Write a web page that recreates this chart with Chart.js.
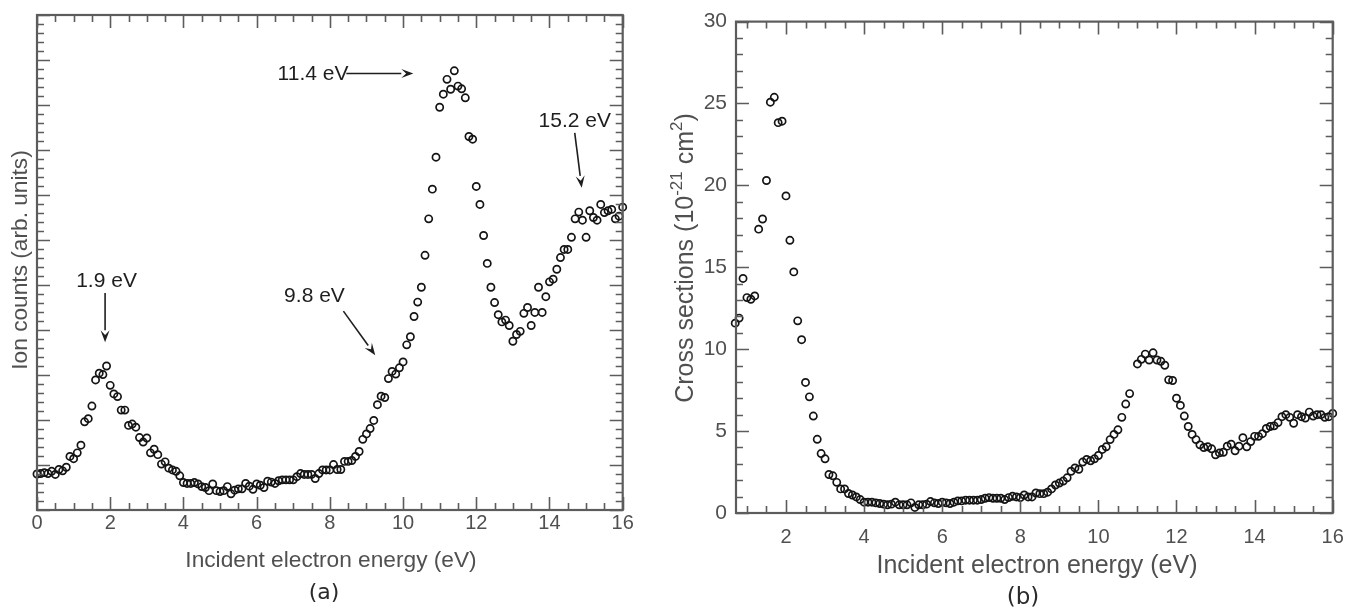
<!DOCTYPE html>
<html><head><meta charset="utf-8">
<script src="https://cdn.jsdelivr.net/npm/chart.js@4.4.1/dist/chart.umd.min.js"></script>
<style>
html,body{margin:0;padding:0;background:#fff;}
#wrap{position:relative;width:1359px;height:610px;overflow:hidden;}
canvas{position:absolute;top:0;}
#ca{left:0;}
#cb{left:660px;}
</style></head><body>
<div id="wrap"><canvas id="ca" width="660" height="610"></canvas><canvas id="cb" width="699" height="610"></canvas></div>
<script>
// ---------- data: panel (a) ----------
const energyA = [
 0.0,0.1,0.2,0.3,0.4,0.5,0.6,0.7,0.8,0.9,
 1.0,1.1,1.2,1.3,1.4,1.5,1.6,1.7,1.8,1.9,
 2.0,2.1,2.2,2.3,2.4,2.5,2.6,2.7,2.8,2.9,
 3.0,3.1,3.2,3.3,3.4,3.5,3.6,3.7,3.8,3.9,
 4.0,4.1,4.2,4.3,4.4,4.5,4.6,4.7,4.8,4.9,
 5.0,5.1,5.2,5.3,5.4,5.5,5.6,5.7,5.8,5.9,
 6.0,6.1,6.2,6.3,6.4,6.5,6.6,6.7,6.8,6.9,
 7.0,7.1,7.2,7.3,7.4,7.5,7.6,7.7,7.8,7.9,
 8.0,8.1,8.2,8.3,8.4,8.5,8.6,8.7,8.8,8.9,
 9.0,9.1,9.2,9.3,9.4,9.5,9.6,9.7,9.8,9.9,
 10.0,10.1,10.2,10.3,10.4,10.5,10.6,10.7,10.8,10.9,
 11.0,11.1,11.2,11.3,11.4,11.5,11.6,11.7,11.8,11.9,
 12.0,12.1,12.2,12.3,12.4,12.5,12.6,12.7,12.8,12.9,
 13.0,13.1,13.2,13.3,13.4,13.5,13.6,13.7,13.8,13.9,
 14.0,14.1,14.2,14.3,14.4,14.5,14.6,14.7,14.8,14.9,
 15.0,15.1,15.2,15.3,15.4,15.5,15.6,15.7,15.8,15.9,
 16.0];
const ionCounts = [
 0.80,0.81,0.83,0.81,0.86,0.79,0.90,0.87,0.95,1.19,
 1.14,1.27,1.44,1.96,2.03,2.31,2.89,3.04,3.01,3.20,
 2.77,2.58,2.52,2.22,2.22,1.88,1.91,1.84,1.61,1.51,
 1.60,1.27,1.35,1.23,1.02,1.07,0.93,0.89,0.86,0.76,
 0.61,0.59,0.59,0.61,0.58,0.52,0.50,0.43,0.58,0.43,
 0.41,0.43,0.52,0.36,0.44,0.47,0.47,0.59,0.53,0.46,
 0.58,0.55,0.50,0.64,0.62,0.59,0.65,0.67,0.67,0.67,
 0.67,0.74,0.81,0.79,0.79,0.79,0.70,0.81,0.89,0.89,
 0.89,1.01,0.90,0.90,1.08,1.08,1.10,1.19,1.30,1.57,
 1.69,1.81,1.99,2.34,2.53,2.50,2.92,3.08,3.02,3.16,
 3.29,3.67,3.85,4.30,4.62,4.95,5.66,6.47,7.13,7.84,
 8.95,9.24,9.57,9.35,9.76,9.42,9.36,9.16,8.30,8.24,
 7.19,6.79,6.10,5.48,4.95,4.61,4.34,4.18,4.22,4.10,
 3.75,3.90,3.97,4.37,4.50,4.10,4.39,4.95,4.39,4.74,
 5.07,5.13,5.35,5.61,5.79,5.79,6.06,6.47,6.62,6.44,
 6.06,6.65,6.50,6.44,6.79,6.61,6.65,6.68,6.47,6.53,
 6.73];
const xTickLabelsA = [0,2,4,6,8,10,12,14,16];
const peakLabelsA = ['1.9 eV','9.8 eV','11.4 eV','15.2 eV'];

// ---------- data: panel (b) ----------
const energyB = [
 0.7,0.8,0.9,
 1.0,1.1,1.2,1.3,1.4,1.5,1.6,1.7,1.8,1.9,
 2.0,2.1,2.2,2.3,2.4,2.5,2.6,2.7,2.8,2.9,
 3.0,3.1,3.2,3.3,3.4,3.5,3.6,3.7,3.8,3.9,
 4.0,4.1,4.2,4.3,4.4,4.5,4.6,4.7,4.8,4.9,
 5.0,5.1,5.2,5.3,5.4,5.5,5.6,5.7,5.8,5.9,
 6.0,6.1,6.2,6.3,6.4,6.5,6.6,6.7,6.8,6.9,
 7.0,7.1,7.2,7.3,7.4,7.5,7.6,7.7,7.8,7.9,
 8.0,8.1,8.2,8.3,8.4,8.5,8.6,8.7,8.8,8.9,
 9.0,9.1,9.2,9.3,9.4,9.5,9.6,9.7,9.8,9.9,
 10.0,10.1,10.2,10.3,10.4,10.5,10.6,10.7,10.8,
 11.0,11.1,11.2,11.3,11.4,11.5,11.6,11.7,11.8,11.9,
 12.0,12.1,12.2,12.3,12.4,12.5,12.6,12.7,12.8,12.9,
 13.0,13.1,13.2,13.3,13.4,13.5,13.6,13.7,13.8,13.9,
 14.0,14.1,14.2,14.3,14.4,14.5,14.6,14.7,14.8,14.9,
 15.0,15.1,15.2,15.3,15.4,15.5,15.6,15.7,15.8,15.9,
 16.0];
const crossSections = [
 11.59,11.90,14.32,
 13.15,13.05,13.25,17.33,17.95,20.30,25.08,25.38,23.83,23.92,
 19.36,16.65,14.72,11.73,10.58,7.97,7.09,5.92,4.50,3.63,
 3.31,2.35,2.27,1.87,1.47,1.47,1.19,1.10,0.98,0.82,
 0.66,0.66,0.66,0.62,0.58,0.54,0.50,0.54,0.66,0.50,
 0.50,0.50,0.62,0.34,0.50,0.50,0.54,0.70,0.62,0.58,
 0.66,0.62,0.58,0.66,0.74,0.74,0.78,0.78,0.78,0.78,
 0.82,0.90,0.94,0.90,0.90,0.90,0.82,0.94,1.02,0.98,
 0.94,1.10,0.98,0.98,1.22,1.18,1.18,1.27,1.47,1.71,
 1.83,1.95,2.15,2.55,2.75,2.67,3.11,3.27,3.19,3.31,
 3.51,3.88,4.04,4.48,4.80,5.08,5.84,6.65,7.29,
 9.10,9.38,9.70,9.34,9.78,9.34,9.26,9.02,8.13,8.09,
 7.01,6.57,5.92,5.28,4.80,4.48,4.16,4.00,4.04,3.92,
 3.55,3.67,3.71,4.08,4.20,3.80,4.08,4.60,4.04,4.36,
 4.68,4.68,4.84,5.16,5.28,5.32,5.52,5.88,6.00,5.84,
 5.48,6.00,5.88,5.80,6.16,5.92,6.00,6.00,5.84,5.88,
 6.08];
const xTickLabelsB = [2,4,6,8,10,12,14,16];
const yTickLabelsB = [0,5,10,15,20,25,30];

// ---------- helpers ----------
const FONT = '"Liberation Sans", Arial, Helvetica, sans-serif';
const AXIS = '#5c5c5c';
const TXT = '#505050';
const toPts = (xs, ys) => xs.map((x, i) => ({x: x, y: ys[i]}));
const near = (v, m) => Math.abs(v / m - Math.round(v / m)) < 1e-6;

function framePlugin(cfg) {
  return {
    id: 'frame' + cfg.id,
    afterDatasetsDraw(chart) {
      const ctx = chart.ctx, a = chart.chartArea, xs = chart.scales.x, ys = chart.scales.y;
      ctx.save();
      ctx.strokeStyle = AXIS;
      ctx.lineWidth = 1.6;
      ctx.beginPath();
      for (let i = 0; i < cfg.xCount; i++) {
        const v = cfg.xStart + i * cfg.xStep;
        const p = Math.round(xs.getPixelForValue(v)) + 0.5;
        const L = near(v, cfg.xMajor) ? 13 : 7;
        ctx.moveTo(p, a.bottom); ctx.lineTo(p, a.bottom - L);
        ctx.moveTo(p, a.top); ctx.lineTo(p, a.top + L);
      }
      for (let i = 0; i < cfg.yCount; i++) {
        const v = cfg.yStart + i * cfg.yStep;
        const p = Math.round(ys.getPixelForValue(v)) + 0.5;
        const L = near(v, cfg.yMajor) ? 13 : 7;
        ctx.moveTo(a.left, p); ctx.lineTo(a.left + L, p);
        ctx.moveTo(a.right, p); ctx.lineTo(a.right - L, p);
      }
      ctx.stroke();
      ctx.lineWidth = 2.2;
      ctx.strokeRect(a.left, a.top, a.right - a.left, a.bottom - a.top);
      ctx.restore();
    }
  };
}

function arrow(ctx, x1, y1, x2, y2) {
  const ang = Math.atan2(y2 - y1, x2 - x1), L = 12, W = 4.5;
  const bx = x2 - L * Math.cos(ang), by = y2 - L * Math.sin(ang);
  ctx.beginPath(); ctx.moveTo(x1, y1); ctx.lineTo(bx, by); ctx.stroke();
  ctx.beginPath();
  ctx.moveTo(x2, y2);
  ctx.lineTo(bx + W * Math.sin(ang), by - W * Math.cos(ang));
  ctx.lineTo(x2 - 0.6 * L * Math.cos(ang), y2 - 0.6 * L * Math.sin(ang));
  ctx.lineTo(bx - W * Math.sin(ang), by + W * Math.cos(ang));
  ctx.closePath(); ctx.fill();
}

const commonDataset = {
  showLine: false, pointStyle: 'circle', pointRadius: 3.6, pointBorderWidth: 1.7,
  pointBorderColor: '#141414', pointBackgroundColor: 'rgba(255,255,255,0)',
  pointHoverRadius: 3.6, clip: false
};
const baseOpts = {
  responsive: false, animation: false, events: [],
  plugins: {legend: {display: false}, tooltip: {enabled: false}}
};

// ---------- chart (a) ----------
const annA = {
  id: 'annA',
  afterDraw(chart) {
    const ctx = chart.ctx, xs = chart.scales.x, ys = chart.scales.y;
    const X = v => xs.getPixelForValue(v), Y = v => ys.getPixelForValue(v);
    ctx.save();
    const spec = [
      {t: peakLabelsA[0], tx: 1.90, ty: 5.08, a: [1.86, 4.82, 1.86, 3.73]},
      {t: peakLabelsA[1], tx: 7.58, ty: 4.76, a: [8.37, 4.42, 9.24, 3.44]},
      {t: peakLabelsA[2], tx: 7.54, ty: 9.69, a: [8.45, 9.70, 10.28, 9.70]},
      {t: peakLabelsA[3], tx: 14.69, ty: 8.65, a: [14.69, 8.38, 14.88, 7.16]}
    ];
    ctx.font = '21px ' + FONT;
    ctx.fillStyle = '#1e1e1e'; ctx.strokeStyle = '#1e1e1e'; ctx.lineWidth = 1.6;
    ctx.textAlign = 'center'; ctx.textBaseline = 'middle';
    spec.forEach(s => {
      ctx.fillText(s.t, X(s.tx), Y(s.ty));
      arrow(ctx, X(s.a[0]), Y(s.a[1]), X(s.a[2]), Y(s.a[3]));
    });
    ctx.fillStyle = TXT;
    ctx.font = '22.7px ' + FONT;
    ctx.textAlign = 'center'; ctx.textBaseline = 'alphabetic';
    ctx.fillText('Incident electron energy (eV)', 331, 567);
    ctx.save();
    ctx.translate(27, 260); ctx.rotate(-Math.PI / 2);
    ctx.fillText('Ion counts (arb. units)', 0, 0);
    ctx.restore();
    ctx.fillStyle = '#2a2a2a';
    ctx.font = '22px "DejaVu Sans", Verdana, sans-serif';
    ctx.textBaseline = 'middle';
    ctx.fillText('(a)', 324, 593);
    ctx.restore();
  }
};

new Chart(document.getElementById('ca'), {
  type: 'scatter',
  data: {datasets: [Object.assign({data: toPts(energyA, ionCounts)}, commonDataset)]},
  options: Object.assign({}, baseOpts, {
    layout: {padding: {left: 0, right: 37.3, top: 15, bottom: 0}},
    scales: {
      x: {type: 'linear', min: 0, max: 16,
          grid: {display: false, drawTicks: false}, border: {display: false},
          ticks: {font: {size: 20, family: FONT}, color: TXT, padding: 1, maxRotation: 0},
          afterBuildTicks: s => { s.ticks = xTickLabelsA.map(v => ({value: v})); },
          afterFit: s => { s.height = 100; }},
      y: {type: 'linear', min: 0, max: 11,
          grid: {display: false, drawTicks: false}, border: {display: false},
          ticks: {display: false},
          afterFit: s => { s.width = 37; }}
    }
  }),
  plugins: [framePlugin({id: 'A', xStart: 0, xStep: 0.5, xCount: 33, xMajor: 2,
                         yStart: 0, yStep: 0.2, yCount: 56, yMajor: 1}), annA]
});

// ---------- chart (b) ----------
const annB = {
  id: 'annB',
  afterDraw(chart) {
    const ctx = chart.ctx;
    ctx.save();
    ctx.fillStyle = TXT;
    ctx.font = '25px ' + FONT;
    ctx.textAlign = 'center'; ctx.textBaseline = 'alphabetic';
    ctx.fillText('Incident electron energy (eV)', 377, 573);
    ctx.save();
    ctx.translate(33, 258); ctx.rotate(-Math.PI / 2);
    const big = '25px ' + FONT, small = '17px ' + FONT;
    const parts = [
      {t: 'Cross sections (10', f: big, dy: 0},
      {t: '-21', f: small, dy: -11},
      {t: ' cm', f: big, dy: 0},
      {t: '2', f: small, dy: -11},
      {t: ')', f: big, dy: 0}
    ];
    let total = 0;
    parts.forEach(p => { ctx.font = p.f; p.w = ctx.measureText(p.t).width; total += p.w; });
    ctx.textAlign = 'left';
    let x = -total / 2;
    parts.forEach(p => { ctx.font = p.f; ctx.fillText(p.t, x, p.dy); x += p.w; });
    ctx.restore();
    ctx.fillStyle = '#2a2a2a';
    ctx.font = '23px "DejaVu Sans", Verdana, sans-serif';
    ctx.textAlign = 'center'; ctx.textBaseline = 'middle';
    ctx.fillText('(b)', 363, 598);
    ctx.restore();
  }
};

new Chart(document.getElementById('cb'), {
  type: 'scatter',
  data: {datasets: [Object.assign({data: toPts(energyB, crossSections)}, commonDataset)]},
  options: Object.assign({}, baseOpts, {
    layout: {padding: {left: 0, right: 26.3, top: 15, bottom: 0}},
    scales: {
      x: {type: 'linear', min: 0.72, max: 16,
          grid: {display: false, drawTicks: false}, border: {display: false},
          ticks: {font: {size: 20, family: FONT}, color: TXT, padding: 12, maxRotation: 0},
          afterBuildTicks: s => { s.ticks = xTickLabelsB.map(v => ({value: v})); },
          afterFit: s => { s.height = 97; }},
      y: {type: 'linear', min: 0, max: 30,
          grid: {display: false, drawTicks: false}, border: {display: false},
          ticks: {font: {size: 21, family: FONT}, color: TXT, padding: 9},
          afterBuildTicks: s => { s.ticks = yTickLabelsB.map(v => ({value: v})); },
          afterFit: s => { s.width = 76; }}
    }
  }),
  plugins: [framePlugin({id: 'B', xStart: 1.0, xStep: 0.5, xCount: 31, xMajor: 2,
                         yStart: 0, yStep: 1, yCount: 31, yMajor: 5}), annB]
});
</script>
</body></html>
